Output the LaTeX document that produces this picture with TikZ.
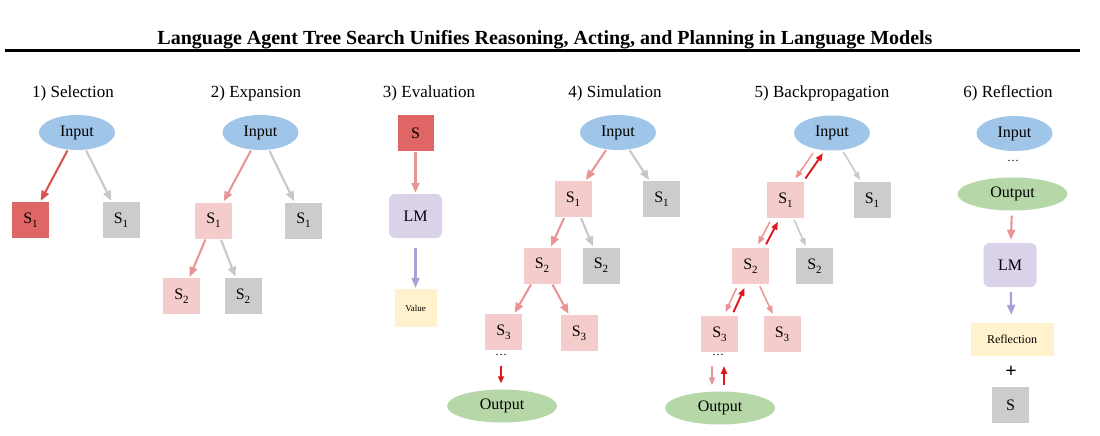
\documentclass[tikz,border=0pt]{standalone}
\usepackage{fontspec}
\setmainfont{Liberation Serif}
\usetikzlibrary{arrows.meta,shapes.geometric}

\definecolor{inblue}{HTML}{9FC5E8}
\definecolor{selred}{HTML}{E06666}
\definecolor{lightred}{HTML}{F4CCCC}
\definecolor{boxgray}{HTML}{CCCCCC}
\definecolor{lmpurple}{HTML}{D9D2E9}
\definecolor{valyellow}{HTML}{FFF2CC}
\definecolor{outgreen}{HTML}{B6D7A8}
\definecolor{arrsel}{HTML}{D9534F}
\definecolor{arrpink}{HTML}{E99595}
\definecolor{arrgray}{HTML}{C8C8C8}
\definecolor{arrpurple}{HTML}{A9A0D8}
\definecolor{arrback}{HTML}{E3141B}

\newcommand{\stn}[1]{S\raisebox{-4pt}{\fontsize{11}{11}\selectfont #1}}

\begin{document}
\begin{tikzpicture}[x=1pt, y=-1pt,
  every node/.style={font=\fontsize{16}{18}\selectfont},
  ptitle/.style={font=\fontsize{17}{20}\selectfont},
  inp/.style={ellipse, fill=inblue, minimum width=76pt, minimum height=35pt, inner sep=0pt},
  outp/.style={ellipse, fill=outgreen, minimum width=110pt, minimum height=33pt, inner sep=0pt},
  statebox/.style={fill=#1, minimum width=37pt, minimum height=36pt, inner sep=0pt},
  statebox/.default=lightred,
  lmbox/.style={rounded corners=6pt, fill=lmpurple, minimum width=53pt, minimum height=44pt, inner sep=0pt},
  dotsnode/.style={font=\fontsize{12}{12}\selectfont, inner sep=0pt},
  arr/.style={-{Triangle[length=10pt,width=8pt]}, line width=2.1pt, draw=#1, shorten >=1pt, shorten <=1pt},
  thinarr/.style={-{Triangle[length=8pt,width=6pt]}, line width=1.5pt, draw=#1, shorten >=4pt, shorten <=4pt}
]
\useasboundingbox (0,0) rectangle (1100,436);

% title
\node[font=\fontsize{20}{22}\selectfont\bfseries, anchor=base] (title) at (545,45) {Language Agent Tree Search Unifies Reasoning, Acting, and Planning in Language Models};
\draw[line width=3pt] (5,51) -- (1080,51);

% 1) selection
\node[ptitle] (t1) at (73,93) {1) Selection};
\node[inp] (in1) at (77,132.5) {Input};
\node[statebox=selred] (s11) at (30.5,220) {\stn{1}};
\node[statebox=boxgray] (g11) at (121,220) {\stn{1}};
\draw[arr=arrsel] (in1) -- (s11);
\draw[arr=arrgray] (in1) -- (g11);

% 2) expansion
\node[ptitle] (t2) at (256,93) {2) Expansion};
\node[inp] (in2) at (260.5,132.5) {Input};
\node[statebox] (s21) at (213.5,220.5) {\stn{1}};
\node[statebox=boxgray] (g21) at (303.5,220.5) {\stn{1}};
\node[statebox] (s22) at (181.5,296) {\stn{2}};
\node[statebox=boxgray] (g22) at (243,296) {\stn{2}};
\draw[arr=arrpink] (in2) -- (s21);
\draw[arr=arrgray] (in2) -- (g21);
\draw[arr=arrpink] (s21) -- (s22);
\draw[arr=arrgray] (s21) -- (g22);

% 3) evaluation
\node[ptitle] (t3) at (429,93) {3) Evaluation};
\node[statebox=selred, minimum width=36pt] (s3) at (415.5,133) {S};
\node[lmbox] (lm3) at (415.5,216) {LM};
\node[fill=valyellow, minimum width=42pt, minimum height=38pt, font=\fontsize{9}{10}\selectfont] (val3) at (415.5,308) {Value};
\draw[arr=arrpink] (s3) -- (lm3);
\draw[arr=arrpurple, shorten <=10pt] (lm3) -- (val3);

% 4) simulation
\node[ptitle] (t4) at (615,93) {4) Simulation};
\node[inp] (in4) at (618,132.5) {Input};
\node[statebox] (s41) at (573,199) {\stn{1}};
\node[statebox=boxgray] (g41) at (661.5,199) {\stn{1}};
\node[statebox] (s42) at (542,265.5) {\stn{2}};
\node[statebox=boxgray] (g42) at (601,265.5) {\stn{2}};
\node[statebox] (s43) at (503.5,332) {\stn{3}};
\node[statebox] (s43b) at (579,333) {\stn{3}};
\node[dotsnode] (dots4) at (501,355) {\ldots};
\node[outp] (out4) at (502,406) {Output};
\draw[arr=arrpink] (in4) -- (s41);
\draw[arr=arrgray] (in4) -- (g41);
\draw[arr=arrpink] (s41) -- (s42);
\draw[arr=arrgray] (s41) -- (g42);
\draw[arr=arrpink] (s42) -- (s43);
\draw[arr=arrpink] (s42) -- (s43b);
\draw[-{Triangle[length=7pt,width=6pt]}, line width=1.5pt, arrback, shorten <=10pt, shorten >=6pt] (dots4.south) -- (out4.north -| dots4.south);

% 5) backpropagation
\node[ptitle] (t5) at (822,93) {5) Backpropagation};
\node[inp] (in5) at (832,133) {Input};
\node[statebox] (s51) at (785.5,200) {\stn{1}};
\node[statebox=boxgray] (g51) at (872,200) {\stn{1}};
\node[statebox] (s52) at (750.5,266) {\stn{2}};
\node[statebox=boxgray] (g52) at (814.5,266) {\stn{2}};
\node[statebox] (s53) at (719.5,334) {\stn{3}};
\node[statebox] (s53b) at (782,334) {\stn{3}};
\node[dotsnode] (dots5) at (718,355) {\ldots};
\node[outp] (out5) at (720,408) {Output};
\draw[thinarr=arrpink, transform canvas={xshift=-5pt}] (in5) -- (s51);
\draw[thinarr=arrback, line width=1.9pt, transform canvas={xshift=5pt}] (s51) -- (in5);
\draw[thinarr=arrpink, transform canvas={xshift=-4pt}] (s51) -- (s52);
\draw[thinarr=arrback, line width=1.9pt, transform canvas={xshift=4pt}] (s52) -- (s51);
\draw[thinarr=arrpink, transform canvas={xshift=-4pt}] (s52) -- (s53);
\draw[thinarr=arrback, line width=1.9pt, transform canvas={xshift=4pt}] (s53) -- (s52);
\draw[thinarr=arrgray, shorten <=2pt, shorten >=2pt] (in5) -- (g51);
\draw[thinarr=arrgray, shorten <=2pt, shorten >=2pt] (s51) -- (g52);
\draw[thinarr=arrpink, shorten <=2pt, shorten >=2pt] (s52) -- (s53b);
\draw[thinarr=arrpink, shorten <=10pt, shorten >=6pt] ([xshift=-6pt]dots5.south) -- ([xshift=-6pt]out5.north -| dots5.south);
\draw[thinarr=arrback, line width=1.9pt, shorten <=6pt, shorten >=10pt] ([xshift=6pt]out5.north -| dots5.south) -- ([xshift=6pt]dots5.south);

% 6) reflection
\node[ptitle] (t6) at (1008,93) {6) Reflection};
\node[inp] (in6) at (1014.5,133.5) {Input};
\node[dotsnode] (dots6) at (1013,161) {\ldots};
\node[outp] (out6) at (1012.5,194) {Output};
\node[lmbox] (lm6) at (1010,265) {LM};
\node[fill=valyellow, minimum width=83pt, minimum height=33pt, font=\fontsize{12}{13}\selectfont] (refl6) at (1012,339.5) {Reflection};
\node[font=\fontsize{20}{20}\selectfont\bfseries] (plus6) at (1011,372) {+};
\node[statebox=boxgray] (sg6) at (1010.5,405) {S};
\draw[arr=arrpink, shorten <=5pt, shorten >=3pt] (out6) -- (lm6);
\draw[arr=arrpurple, shorten <=5pt, shorten >=8pt] (lm6) -- (refl6);

\end{tikzpicture}
\end{document}
